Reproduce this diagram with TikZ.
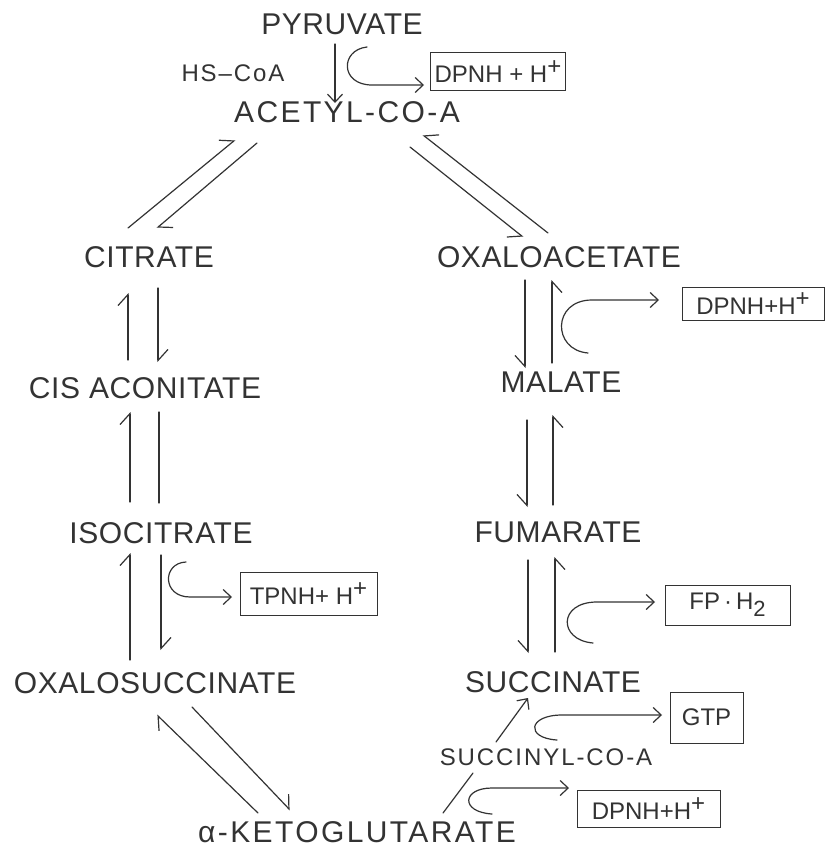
\documentclass[tikz,border=0pt]{standalone}
\usepackage{fontspec}
\setmainfont{Liberation Sans}
\newfontfamily\lbl[LetterSpace=2]{Liberation Sans}
\newfontfamily\lblw[LetterSpace=8]{Liberation Sans}
\usetikzlibrary{arrows.meta}
\definecolor{ink}{HTML}{333333}
\tikzset{
  met/.style={inner sep=0pt, anchor=base, text=ink, font=\lbl\fontsize{30}{30}\selectfont},
  metw/.style={inner sep=0pt, anchor=base, text=ink, font=\lblw\fontsize{30}{30}\selectfont},
  mets/.style={inner sep=0pt, anchor=base, text=ink, font=\lblw\fontsize{24}{24}\selectfont},
  prod/.style={draw=ink, line width=1pt, inner sep=0pt, text=ink, font=\fontsize{24}{24}\selectfont},
  ln/.style={draw=ink, line width=1.2pt, line cap=round},
  hl/.style={ln, -{Straight Barb[harpoon,length=11pt,width=20pt,line width=1.2pt]}},
  hr/.style={ln, -{Straight Barb[harpoon,swap,length=11pt,width=20pt,line width=1.2pt]}},
  fa/.style={ln, -{Straight Barb[length=8pt,width=15pt,line width=1.2pt]}},
}
\newcommand{\plusup}{\raisebox{8pt}{+}}
\begin{document}
\begin{tikzpicture}[x=1pt,y=-1pt]
\useasboundingbox[fill=white] (0,0) rectangle (826,848);
% metabolites
\node[met]  (pyr)  at (342,35)  {PYRUVATE};
\node[mets] (hscoa) at (233,82) {HS–CoA};
\node[metw] (acoa) at (347,122) {ACETYL-CO-A};
\node[met]  (cit)  at (149,267) {CITRATE};
\node[met]  (oaa)  at (559,267) {OXALOACETATE};
\node[met]  (cis)  at (145,398) {CIS ACONITATE};
\node[met]  (mal)  at (561,392) {MALATE};
\node[met]  (iso)  at (161,543) {ISOCITRATE};
\node[met]  (fum)  at (558,542) {FUMARATE};
\node[met]  (oxs)  at (155,693) {OXALOSUCCINATE};
\node[met]  (suc)  at (553,692) {SUCCINATE};
\node[mets] (scoa) at (546,765) {SUCCINYL-CO-A};
\node[metw] (akg)  at (357,842) {α-KETOGLUTARATE};
% products
\node[prod, minimum width=135pt, minimum height=38pt] (p1) at (498,72) {DPNH + H\plusup};
\node[prod, minimum width=142pt, minimum height=33pt] (p2) at (753,303.5) {DPNH+H\plusup};
\node[prod, minimum width=137pt, minimum height=43pt] (p3) at (308.5,593.5) {TPNH+ H\plusup};
\node[prod, minimum width=125pt, minimum height=40pt] (p4) at (727.5,605) {FP\,·\,H\raisebox{-7pt}{\fontsize{22}{22}\selectfont 2}};
\node[prod, minimum width=73pt, minimum height=51pt] (p5) at (706.5,717.5) {GTP};
\node[prod, minimum width=143pt, minimum height=37pt] (p6) at (648.5,808.5) {DPNH+H\plusup};
% free arrow tips in front of the product boxes
\coordinate (t1) at (424,85);
\coordinate (t2) at (659,300);
\coordinate (t3) at (232,597);
\coordinate (t4) at (655,602);
\coordinate (t5) at (662,715);
\coordinate (t6) at (569,788);
% pyruvate -> acetyl
\draw[fa] (335,44) -- (335,103);
\draw[fa] (367,47) .. controls (340,50) and (340,85) .. (372,85) -- (t1);
% acetyl <-> citrate
\draw[hl] (128,228) -- (235,140);
\draw[hl] (257,143) -- (157,228);
% citrate <-> cis aconitate
\draw[hl] (128,360) -- (128,293);
\draw[hl] (158,288) -- (158,362);
% cis aconitate <-> isocitrate
\draw[hl] (130,502) -- (130,412);
\draw[ln] (159,412) -- (159,503);
% isocitrate <-> oxalosuccinate
\draw[hl] (130,660) -- (130,553);
\draw[hl] (161,555) -- (161,650);
\draw[fa] (186,562) .. controls (162,563) and (162,597) .. (190,597) -- (t3);
% oxalosuccinate <-> alpha-ketoglutarate
\draw[hl] (258,813) -- (157,715);
\draw[hl] (192,707) -- (290,810);
% alpha-ketoglutarate -> succinyl -> succinate
\draw[ln] (443,813) -- (473,773);
\draw[fa] (492,814) .. controls (460,812) and (462,788) .. (492,788) -- (t6);
\draw[fa] (496,742) -- (528,698);
\draw[fa] (557,740) .. controls (525,738) and (528,715) .. (562,715) -- (t5);
% acetyl <-> oxaloacetate
\draw[hr] (410,147) -- (523,237);
\draw[hr] (548,233) -- (423,135);
% oxaloacetate <-> malate
\draw[hr] (525,280) -- (525,368);
\draw[hr] (552,363) -- (552,280);
\draw[fa] (588,353) .. controls (552,350) and (552,300) .. (592,300) -- (t2);
% malate <-> fumarate
\draw[hr] (527,420) -- (527,507);
\draw[hr] (553,505) -- (553,415);
% fumarate <-> succinate
\draw[hr] (528,560) -- (528,653);
\draw[hr] (555,652) -- (555,557);
\draw[fa] (593,643) .. controls (558,640) and (558,602) .. (597,602) -- (t4);
\end{tikzpicture}
\end{document}
